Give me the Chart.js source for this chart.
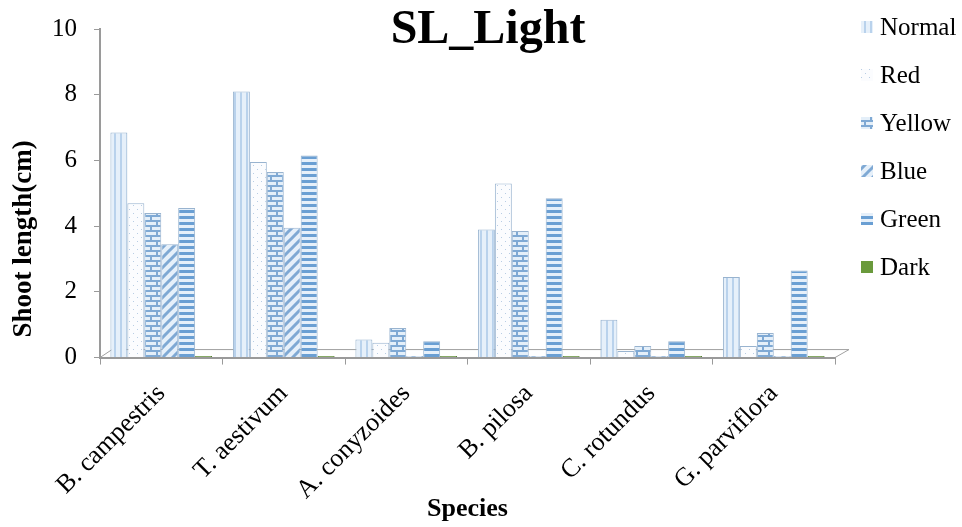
<!DOCTYPE html>
<html>
<head>
<meta charset="utf-8">
<script src="https://cdn.jsdelivr.net/npm/chart.js@4.4.1/dist/chart.umd.min.js"></script>
<style>
  html, body { margin: 0; padding: 0; background: #ffffff; }
  #wrap { width: 962px; height: 527px; position: relative; }
</style>
</head>
<body>
<div id="wrap"><canvas id="chart"></canvas></div>
<script>
// Shoot length (cm) of six species grown under different light treatments
const species = ['B. campestris', 'T. aestivum', 'A. conyzoides', 'B. pilosa', 'C. rotundus', 'G. parviflora'];
const normal = [6.85, 8.1, 0.55, 3.9, 1.15, 2.45];
const red    = [4.7, 5.95, 0.45, 5.3, 0.2, 0.35];
const yellow = [4.4, 5.65, 0.9, 3.85, 0.35, 0.75];
const blue   = [3.45, 3.95, 0.05, 0.05, 0.05, 0.05];
const green  = [4.55, 6.15, 0.5, 4.85, 0.5, 2.65];
const dark   = [0.05, 0.05, 0.05, 0.05, 0.05, 0.05];
const yTicks = [0, 2, 4, 6, 8, 10];

const SERIF = "'Liberation Serif', 'Times New Roman', serif";

function makePattern(w, h, paint) {
  const c = document.createElement('canvas');
  c.width = w; c.height = h;
  const g = c.getContext('2d');
  paint(g, w, h);
  return g.createPattern(c, 'repeat');
}

// Normal: pale blue with faint vertical shading
const normalFill = makePattern(6, 6, (g, w, h) => {
  g.fillStyle = '#e6f0fa'; g.fillRect(0, 0, w, h);
  g.fillStyle = '#b9d2ec'; g.fillRect(0, 0, 2, h);
});
// Red: white with sparse dots
const redFill = makePattern(8, 8, (g, w, h) => {
  g.fillStyle = '#fbfcfe'; g.fillRect(0, 0, w, h);
  g.fillStyle = '#b8cde4'; g.fillRect(1, 1, 1, 1); g.fillRect(5, 5, 1, 1);
});
// Yellow: brick pattern
const yellowFill = makePattern(12, 10, (g, w, h) => {
  g.fillStyle = '#e4eff9'; g.fillRect(0, 0, w, h);
  g.fillStyle = '#7fa9d4';
  g.fillRect(0, 0, w, 2);
  g.fillRect(0, 5, w, 2);
  g.fillRect(0, 0, 2, 5);
  g.fillRect(6, 5, 2, 5);
});
// Blue: wide diagonal stripes
const blueFill = makePattern(10, 10, (g, w, h) => {
  g.fillStyle = '#e6f0fa'; g.fillRect(0, 0, w, h);
  g.strokeStyle = '#7fa9d4'; g.lineWidth = 3;
  g.beginPath();
  g.moveTo(-2, 12); g.lineTo(12, -2);
  g.moveTo(-7, 7); g.lineTo(7, -7);
  g.moveTo(3, 17); g.lineTo(17, 3);
  g.stroke();
});
// Green: horizontal stripes
const greenFill = makePattern(8, 6, (g, w, h) => {
  g.fillStyle = '#e6f0fa'; g.fillRect(0, 0, w, h);
  g.fillStyle = '#6a9fd3'; g.fillRect(0, 0, w, 3);
});
const darkFill = '#6a9a3c';

const edge = '#98b3cf';

// Chart title and the rotated y-axis caption
const textPlugin = {
  id: 'captions',
  afterDraw(chart) {
    const { ctx } = chart;
    ctx.save();
    ctx.fillStyle = '#000';
    ctx.textAlign = 'center';
    ctx.textBaseline = 'middle';
    ctx.font = "bold 48px " + SERIF;
    ctx.fillText('SL_Light', 488, 31);
    ctx.translate(24, 239);
    ctx.rotate(-Math.PI / 2);
    ctx.font = "bold 27px " + SERIF;
    ctx.fillText('Shoot length(cm)', 0, 0);
    ctx.restore();
  }
};

// Legend column on the right: small pattern swatch followed by the series name
const legendPlugin = {
  id: 'sideLegend',
  afterDraw(chart) {
    const { ctx } = chart;
    ctx.save();
    ctx.font = "25px " + SERIF;
    ctx.textAlign = 'left';
    ctx.textBaseline = 'middle';
    chart.data.datasets.forEach((d, i) => {
      const cy = 27 + 48 * i;
      ctx.fillStyle = d.backgroundColor;
      ctx.fillRect(861, cy - 6, 12, 12);
      ctx.fillStyle = '#000';
      ctx.fillText(d.label, 880, cy + 1);
    });
    ctx.restore();
  }
};

// Floor of the plot drawn as a shallow slab below the bars
const floorPlugin = {
  id: 'floor',
  beforeDatasetsDraw(chart) {
    const { ctx, chartArea } = chart;
    const y0 = chart.scales.y.getPixelForValue(0);
    const l = chartArea.left, r = chartArea.right;
    ctx.save();
    ctx.strokeStyle = '#a0a0a0';
    ctx.lineWidth = 1;
    ctx.beginPath();
    ctx.moveTo(l, y0);
    ctx.lineTo(l + 12, y0 - 8);
    ctx.lineTo(r + 14, y0 - 8);
    ctx.lineTo(r, y0);
    ctx.stroke();
    ctx.restore();
  }
};

function ds(label, data, fill) {
  return {
    label, data,
    backgroundColor: fill,
    borderColor: fill === darkFill ? '#4e7a28' : edge,
    borderWidth: 1,
    barPercentage: 1.0,
    categoryPercentage: 0.83
  };
}

new Chart(document.getElementById('chart'), {
  type: 'bar',
  data: {
    labels: species,
    datasets: [
      ds('Normal', normal, normalFill),
      ds('Red', red, redFill),
      ds('Yellow', yellow, yellowFill),
      ds('Blue', blue, blueFill),
      ds('Green', green, greenFill),
      ds('Dark', dark, darkFill)
    ]
  },
  options: {
    responsive: true,
    maintainAspectRatio: false,
    animation: false,
    layout: { padding: { left: 35, right: 127, top: 0, bottom: 2 } },
    plugins: {
      legend: { display: false },
      tooltip: { enabled: false },
      title: { display: false }
    },
    scales: {
      x: {
        grid: { display: true, drawOnChartArea: false, color: '#9a9a9a', tickLength: 7, offset: true },
        border: { display: true, color: '#9a9a9a', width: 2 },
        ticks: {
          font: { family: SERIF, size: 26 },
          color: '#000',
          maxRotation: 45,
          minRotation: 45,
          padding: 14
        },
        title: {
          display: true,
          text: 'Species',
          font: { family: SERIF, size: 26, weight: 'bold' },
          color: '#000',
          padding: { top: -26, bottom: 0 }
        }
      },
      y: {
        min: 0,
        max: 10,
        afterBuildTicks(axis) { axis.ticks = yTicks.map(v => ({ value: v })); },
        afterFit(axis) { axis.paddingTop = 29; },
        grid: { display: true, drawOnChartArea: false, color: '#9a9a9a', tickLength: 6 },
        border: { display: true, color: '#9a9a9a', width: 2 },
        ticks: {
          font: { family: SERIF, size: 25 },
          color: '#000',
          padding: 17
        },
        title: { display: false }
      }
    }
  },
  plugins: [textPlugin, legendPlugin, floorPlugin]
});
</script>
</body>
</html>
